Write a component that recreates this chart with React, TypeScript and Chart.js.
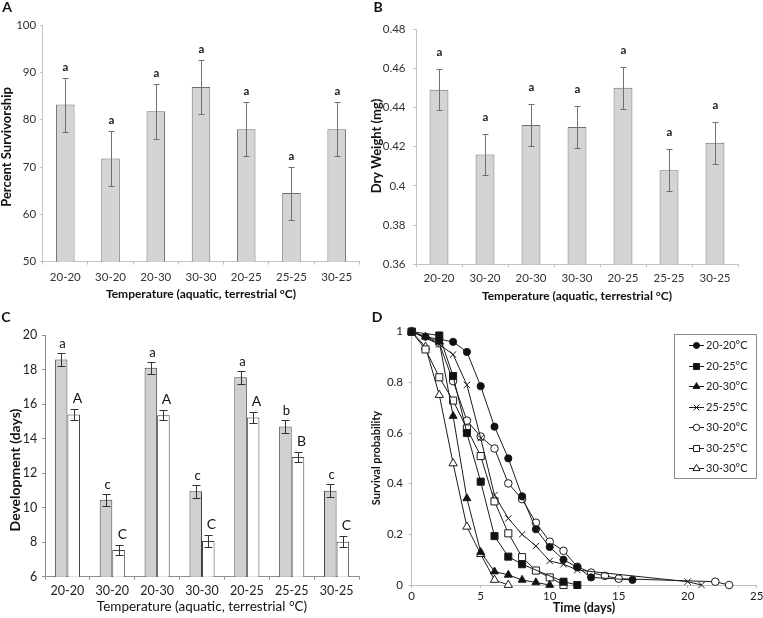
import React, { useEffect, useRef } from 'react';
import { Chart, registerables } from 'chart.js';
import { drawPoint } from 'chart.js/helpers';

Chart.register(...registerables);

const W = 763;
const H = 618;
const FONT = 'Lato, "Noto Sans", sans-serif';
Chart.defaults.font.family = FONT;

// ---------------- data ----------------
const categories = ['20-20', '30-20', '20-30', '30-30', '20-25', '25-25', '30-25'];

// Panel A
const survivorship = [83.2, 71.8, 81.8, 86.9, 78.0, 64.5, 78.0];
const survivorshipErr = [5.7, 5.8, 5.8, 5.7, 5.75, 5.6, 5.75];
const survivorshipLetters = ['a', 'a', 'a', 'a', 'a', 'a', 'a'];

// Panel B
const dryWeight = [0.449, 0.416, 0.431, 0.43, 0.45, 0.408, 0.422];
const dryWeightErr = [0.0105, 0.0105, 0.0108, 0.0105, 0.0108, 0.0107, 0.0106];
const dryWeightLetters = ['a', 'a', 'a', 'a', 'a', 'a', 'a'];

// Panel C
const devGray = [18.58, 10.45, 18.1, 10.95, 17.55, 14.7, 10.98];
const devGrayErr = [0.36, 0.35, 0.35, 0.37, 0.37, 0.38, 0.37];
const devGrayLetters = ['a', 'c', 'a', 'c', 'a', 'b', 'c'];
const devWhite = [15.4, 7.55, 15.35, 8.07, 15.22, 12.93, 8.03];
const devWhiteErr = [0.3, 0.3, 0.3, 0.33, 0.3, 0.3, 0.3];
const devWhiteLetters = ['A', 'C', 'A', 'C', 'A', 'B', 'C'];

// Panel D (survival curves)
const survLabels = ['20-20°C', '20-25°C', '20-30°C', '25-25°C', '30-20°C', '30-25°C', '30-30°C'];
const days2020 = [0, 1, 2, 3, 4, 5, 6, 7, 8, 9, 10, 11, 12, 13, 16];
const surv2020 = [1, 0.98, 0.97, 0.96, 0.92, 0.785, 0.625, 0.5, 0.35, 0.22, 0.15, 0.1, 0.07, 0.03, 0.02];
const days2025 = [0, 2, 3, 4, 5, 6, 7, 8, 11, 12];
const surv2025 = [1, 0.985, 0.825, 0.6, 0.408, 0.193, 0.112, 0.082, 0.013, 0];
const days2030 = [0, 1, 2, 3, 4, 5, 6, 7, 8, 9, 10];
const surv2030 = [1, 0.98, 0.96, 0.667, 0.342, 0.13, 0.053, 0.04, 0.02, 0.01, 0];
const days2525 = [0, 2, 3, 4, 5, 6, 7, 8, 9, 10, 11, 12, 20, 21];
const surv2525 = [1, 0.95, 0.91, 0.79, 0.58, 0.355, 0.263, 0.2, 0.154, 0.095, 0.082, 0.059, 0.013, 0];
const days3020 = [0, 2, 3, 4, 5, 6, 7, 8, 9, 10, 11, 12, 13, 14, 15, 22, 23];
const surv3020 = [1, 0.954, 0.805, 0.649, 0.586, 0.539, 0.401, 0.339, 0.246, 0.171, 0.135, 0.072, 0.049, 0.036, 0.025, 0.013, 0];
const days3025 = [0, 1, 2, 3, 4, 5, 6, 7, 8, 9, 10, 11];
const surv3025 = [1, 0.93, 0.82, 0.728, 0.618, 0.509, 0.33, 0.204, 0.11, 0.057, 0.03, 0];
const days3030 = [0, 1, 2, 3, 4, 5, 6, 7];
const surv3030 = [1, 0.94, 0.75, 0.48, 0.23, 0.122, 0.02, 0];

// ---------------- plugins ----------------
type TextItem = { text: string; x: number; y: number; font: string; rot?: number; color?: string };

function textPlugin(items: TextItem[]) {
  return {
    id: 'panelTexts',
    afterDraw(chart: any) {
      const ctx = chart.ctx;
      items.forEach((it) => {
        ctx.save();
        ctx.font = it.font;
        ctx.fillStyle = it.color || '#111';
        ctx.textAlign = 'center';
        ctx.textBaseline = 'middle';
        ctx.translate(it.x, it.y);
        if (it.rot) ctx.rotate(it.rot);
        ctx.fillText(it.text, 0, 0);
        ctx.restore();
      });
    },
  };
}

type LetterStyle = { font: string; gap: number; dx: number; color: string };

function errorBarPlugin(cfg: { color: string; width: number; cap: number; letters: LetterStyle[] }) {
  return {
    id: 'errorBars',
    afterDatasetsDraw(chart: any) {
      const ctx = chart.ctx;
      const ys = chart.scales.y;
      chart.data.datasets.forEach((ds: any, i: number) => {
        const meta = chart.getDatasetMeta(i);
        const ls = cfg.letters[i];
        meta.data.forEach((bar: any, j: number) => {
          const v = ds.data[j];
          const e = ds.errors[j];
          const x = Math.round(bar.x) + 0.5;
          const yt = Math.round(ys.getPixelForValue(v + e)) + 0.5;
          const yb = Math.round(ys.getPixelForValue(v - e)) + 0.5;
          ctx.save();
          ctx.strokeStyle = cfg.color;
          ctx.lineWidth = cfg.width;
          ctx.beginPath();
          ctx.moveTo(x, yt);
          ctx.lineTo(x, yb);
          ctx.moveTo(x - cfg.cap, yt);
          ctx.lineTo(x + cfg.cap, yt);
          ctx.moveTo(x - cfg.cap, yb);
          ctx.lineTo(x + cfg.cap, yb);
          ctx.stroke();
          ctx.font = ls.font;
          ctx.fillStyle = ls.color;
          ctx.textAlign = 'center';
          ctx.textBaseline = 'alphabetic';
          ctx.fillText(ds.letters[j], x + ls.dx, yt - ls.gap);
          ctx.restore();
        });
      });
    },
  };
}

function survivalLegendPlugin(box: {
  x: number; y: number; w: number; h: number; row0: number; rowGap: number;
  lineX0: number; lineX1: number; markerX: number; textX: number;
}) {
  return {
    id: 'survLegend',
    afterDraw(chart: any) {
      const ctx = chart.ctx;
      ctx.save();
      ctx.fillStyle = '#fff';
      ctx.fillRect(box.x, box.y, box.w, box.h);
      ctx.strokeStyle = '#8c8c8c';
      ctx.lineWidth = 1;
      ctx.strokeRect(box.x + 0.5, box.y + 0.5, box.w, box.h);
      chart.data.datasets.forEach((ds: any, i: number) => {
        const y = Math.round(box.row0 + i * box.rowGap) + 0.5;
        ctx.strokeStyle = ds.borderColor;
        ctx.lineWidth = 1;
        ctx.beginPath();
        ctx.moveTo(box.lineX0, y);
        ctx.lineTo(box.lineX1, y);
        ctx.stroke();
        ctx.fillStyle = ds.pointBackgroundColor;
        ctx.strokeStyle = ds.pointBorderColor;
        drawPoint(ctx, { pointStyle: ds.pointStyle, radius: ds.pointRadius * 0.85, rotation: 0, borderWidth: 1 } as any, box.markerX, y);
        ctx.fillStyle = '#222';
        ctx.font = '11px ' + FONT;
        ctx.textAlign = 'left';
        ctx.textBaseline = 'middle';
        ctx.fillText(ds.label, box.textX, y);
      });
      ctx.restore();
    },
  };
}

// ---------------- config builders ----------------
type Area = { L: number; T: number; R: number; B: number };

function axisFit(area: Area) {
  return {
    y: (s: any) => {
      s.width = area.L;
      s.paddingTop = 0;
      s.paddingBottom = 0;
    },
    x: (s: any) => {
      s.height = H - area.B;
      s.paddingLeft = 0;
      s.paddingRight = 0;
    },
  };
}

function barConfig(p: {
  area: Area; yMin: number; yMax: number; step: number; fmt: (v: number) => string;
  datasets: any[]; axisColor: string; tickFont: number; tickColor: string;
  yPad: number; xPad: number; plugins: any[];
}) {
  const fit = axisFit(p.area);
  return {
    type: 'bar',
    data: { labels: categories, datasets: p.datasets },
    options: {
      animation: false,
      responsive: false,
      layout: { padding: { left: 0, top: p.area.T, right: W - p.area.R, bottom: 0 } },
      plugins: { legend: { display: false }, tooltip: { enabled: false } },
      scales: {
        x: {
          type: 'category',
          offset: true,
          grid: { display: true, drawOnChartArea: false, tickLength: 3, color: p.axisColor, offset: true },
          border: { color: p.axisColor, width: 1 },
          ticks: { padding: p.xPad, color: p.tickColor, font: { size: p.tickFont }, maxRotation: 0 },
          afterFit: fit.x,
        },
        y: {
          min: p.yMin,
          max: p.yMax,
          grid: { display: true, drawOnChartArea: false, tickLength: 3, color: p.axisColor },
          border: { color: p.axisColor, width: 1 },
          ticks: { stepSize: p.step, padding: p.yPad, color: p.tickColor, font: { size: p.tickFont }, callback: (v: any) => p.fmt(Number(v)) },
          afterFit: fit.y,
        },
      },
    },
    plugins: p.plugins,
  } as any;
}

const BOLD = (s: number) => `bold ${s}px ${FONT}`;
const REG = (s: number) => `${s}px ${FONT}`;
const ROT = -Math.PI / 2;

function configA() {
  return barConfig({
    area: { L: 42.7, T: 25, R: 359.3, B: 261.7 },
    yMin: 50, yMax: 100, step: 10, fmt: (v) => String(v),
    datasets: [{
      data: survivorship, errors: survivorshipErr, letters: survivorshipLetters,
      backgroundColor: '#d4d4d4', borderColor: '#6e6e6e', borderWidth: 1,
      barPercentage: 0.41, categoryPercentage: 1,
    }],
    axisColor: '#c4c4c4', tickFont: 11.5, tickColor: '#333', yPad: 3.5, xPad: 6,
    plugins: [
      errorBarPlugin({ color: '#707070', width: 1, cap: 3, letters: [{ font: BOLD(11.5), gap: 8, dx: 0, color: '#222' }] }),
      textPlugin([
        { text: 'A', x: 7, y: 7, font: BOLD(14) },
        { text: 'Percent Survivorship', x: 7, y: 147, rot: ROT, font: BOLD(13) },
        { text: 'Temperature (aquatic, terrestrial °C)', x: 201, y: 294, font: BOLD(12) },
      ]),
    ],
  });
}

function configB() {
  return barConfig({
    area: { L: 416, T: 29, R: 738, B: 264.3 },
    yMin: 0.36, yMax: 0.48, step: 0.02, fmt: (v) => String(Number(v.toFixed(2))),
    datasets: [{
      data: dryWeight, errors: dryWeightErr, letters: dryWeightLetters,
      backgroundColor: '#d4d4d4', borderColor: '#6e6e6e', borderWidth: 1,
      barPercentage: 0.41, categoryPercentage: 1,
    }],
    axisColor: '#c4c4c4', tickFont: 11.5, tickColor: '#333', yPad: 7.5, xPad: 3.6,
    plugins: [
      errorBarPlugin({ color: '#707070', width: 1, cap: 3, letters: [{ font: BOLD(11.5), gap: 13.5, dx: 0, color: '#222' }] }),
      textPlugin([
        { text: 'B', x: 378, y: 7, font: BOLD(14) },
        { text: 'Dry Weight (mg)', x: 377, y: 146, rot: ROT, font: BOLD(13) },
        { text: 'Temperature (aquatic, terrestrial °C)', x: 577, y: 296, font: BOLD(12) },
      ]),
    ],
  });
}

function configC() {
  return barConfig({
    area: { L: 45, T: 335, R: 359, B: 576.7 },
    yMin: 6, yMax: 20, step: 2, fmt: (v) => String(v),
    datasets: [
      {
        data: devGray, errors: devGrayErr, letters: devGrayLetters,
        backgroundColor: '#d0d0d0', borderColor: '#444', borderWidth: 1,
        barPercentage: 1, categoryPercentage: 0.56,
      },
      {
        data: devWhite, errors: devWhiteErr, letters: devWhiteLetters,
        backgroundColor: '#ffffff', borderColor: '#444', borderWidth: 1,
        barPercentage: 1, categoryPercentage: 0.56,
      },
    ],
    axisColor: '#8f8f8f', tickFont: 12.5, tickColor: '#222', yPad: 4.7, xPad: 3.8,
    plugins: [
      errorBarPlugin({
        color: '#333', width: 1, cap: 4,
        letters: [
          { font: REG(13), gap: 6, dx: 1, color: '#111' },
          { font: REG(14), gap: 7, dx: 3, color: '#111' },
        ],
      }),
      textPlugin([
        { text: 'C', x: 6, y: 317, font: BOLD(14) },
        { text: 'Development (days)', x: 15, y: 470, rot: ROT, font: BOLD(14) },
        { text: 'Temperature (aquatic, terrestrial °C)', x: 202, y: 607, font: REG(13.5) },
      ]),
    ],
  });
}

function configD() {
  const area = { L: 411.7, T: 331.7, R: 756.7, B: 585 };
  const fit = axisFit(area);
  const series = [
    { days: days2020, surv: surv2020, style: 'circle', r: 3.6, bg: '#111' },
    { days: days2025, surv: surv2025, style: 'rect', r: 5, bg: '#111' },
    { days: days2030, surv: surv2030, style: 'triangle', r: 4.6, bg: '#111' },
    { days: days2525, surv: surv2525, style: 'crossRot', r: 4.5, bg: '#111' },
    { days: days3020, surv: surv3020, style: 'circle', r: 3.8, bg: '#fff' },
    { days: days3025, surv: surv3025, style: 'rect', r: 5, bg: '#fff' },
    { days: days3030, surv: surv3030, style: 'triangle', r: 4.8, bg: '#fff' },
  ];
  const axisColor = '#bdbdbd';
  return {
    type: 'line',
    data: {
      datasets: series.map((s, i) => ({
        label: survLabels[i],
        data: s.days.map((d, k) => ({ x: d, y: s.surv[k] })),
        borderColor: '#1c1c1c',
        borderWidth: 1,
        pointStyle: s.style,
        pointRadius: s.r,
        pointBackgroundColor: s.bg,
        pointBorderColor: '#1c1c1c',
        pointBorderWidth: 1,
        tension: 0,
        fill: false,
        clip: false,
      })),
    },
    options: {
      animation: false,
      responsive: false,
      layout: { padding: { left: 0, top: area.T, right: W - area.R, bottom: 0 } },
      plugins: { legend: { display: false }, tooltip: { enabled: false } },
      scales: {
        x: {
          type: 'linear', min: 0, max: 25,
          grid: { display: true, drawOnChartArea: false, tickLength: 3, color: axisColor },
          border: { color: axisColor, width: 1 },
          ticks: { stepSize: 5, padding: 1.1, color: '#222', font: { size: 11.5 }, maxRotation: 0 },
          afterFit: fit.x,
        },
        y: {
          type: 'linear', min: 0, max: 1,
          grid: { display: true, drawOnChartArea: false, tickLength: 3, color: axisColor },
          border: { color: axisColor, width: 1 },
          ticks: { stepSize: 0.2, padding: 5.7, color: '#222', font: { size: 11.5 }, callback: (v: any) => String(Math.round(Number(v) * 10) / 10) },
          afterFit: fit.y,
        },
      },
    },
    plugins: [
      survivalLegendPlugin({ x: 674, y: 334, w: 82, h: 144, row0: 345, rowGap: 20.5, lineX0: 689, lineX1: 704, markerX: 696.5, textX: 706 }),
      textPlugin([
        { text: 'D', x: 377, y: 317, font: BOLD(14) },
        { text: 'Survival probability', x: 376, y: 458, rot: ROT, font: BOLD(11) },
        { text: 'Time (days)', x: 584, y: 608, font: BOLD(12.5) },
      ]),
    ],
  } as any;
}

// ---------------- component ----------------
export default function App() {
  const refA = useRef<HTMLCanvasElement>(null);
  const refB = useRef<HTMLCanvasElement>(null);
  const refC = useRef<HTMLCanvasElement>(null);
  const refD = useRef<HTMLCanvasElement>(null);

  useEffect(() => {
    document.body.style.margin = '0';
    const charts = [
      new Chart(refA.current as HTMLCanvasElement, configA()),
      new Chart(refB.current as HTMLCanvasElement, configB()),
      new Chart(refC.current as HTMLCanvasElement, configC()),
      new Chart(refD.current as HTMLCanvasElement, configD()),
    ];
    return () => charts.forEach((c) => c.destroy());
  }, []);

  const cs: React.CSSProperties = { position: 'absolute', left: 0, top: 0 };
  return (
    <div style={{ position: 'absolute', left: 0, top: 0, width: W, height: H, overflow: 'hidden', background: '#fff' }}>
      <canvas ref={refA} width={W} height={H} style={cs} />
      <canvas ref={refB} width={W} height={H} style={cs} />
      <canvas ref={refC} width={W} height={H} style={cs} />
      <canvas ref={refD} width={W} height={H} style={cs} />
    </div>
  );
}
